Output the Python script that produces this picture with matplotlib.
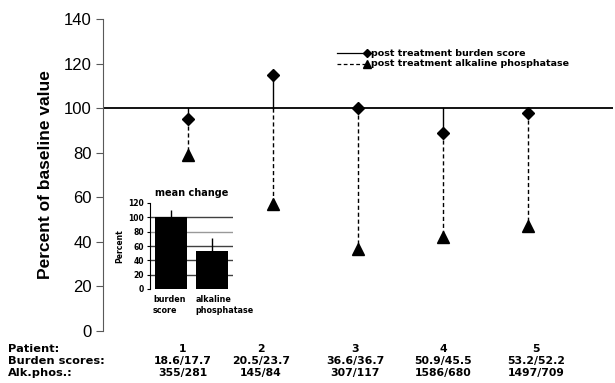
import matplotlib

matplotlib.use("Agg")
import matplotlib.pyplot as plt
import numpy as np

plt.rcParams["font.family"] = ["Liberation Sans", "DejaVu Sans"]
SMALL = "DejaVu Sans"   # the wide bold face used for legend, table and inset

# data
patients = [1, 2, 3, 4, 5]
burden_pct = [95, 115, 100, 89, 98]      # post treatment burden score (% of baseline)
alk_pct = [79, 57, 37, 42, 47]           # post treatment alkaline phosphatase (% of baseline)
burden_txt = ["18.6/17.7", "20.5/23.7", "36.6/36.7", "50.9/45.5", "53.2/52.2"]
alk_txt = ["355/281", "145/84", "307/117", "1586/680", "1497/709"]
row_labels = ["Patient:", "Burden scores:", "Alk.phos.:"]

mean_cats = ["burden\nscore", "alkaline\nphosphatase"]
mean_vals = [100, 53]
mean_err = [10, 18]

W, H = 615, 383
fig = plt.figure(figsize=(W / 100, H / 100), dpi=100)


def fx(px):
    return px / W


def fy(py):
    return 1 - py / H


ax = fig.add_axes([fx(103), fy(331), fx(613) - fx(103), fy(19) - fy(331)])
ax.set_xlim(0, 6)
ax.set_ylim(0, 140)
ax.set_yticks(np.arange(0, 141, 20))
ax.set_xticks([])
for s in ("top", "right", "bottom"):
    ax.spines[s].set_visible(False)
ax.spines["left"].set_color("0.35")
ax.tick_params(axis="y", direction="out", length=5, width=0.8, color="0.35",
               labelsize=12, pad=3)
ax.set_ylabel("Percent of baseline value", fontsize=12.5, fontweight="bold",
              labelpad=8)

ax.axhline(100, color="black", lw=1.3, zorder=2)
for x, b, a in zip(patients, burden_pct, alk_pct):
    ax.plot([x, x], [min(100, b), a], color="black", lw=1, ls=(0, (3, 2)), zorder=2)
    ax.plot([x, x], [100, b], color="black", lw=1, zorder=3)
ax.plot(patients, burden_pct, ls="none", marker="D", ms=6.5, color="black", zorder=4)
ax.plot(patients, alk_pct, ls="none", marker="^", ms=9, color="black", zorder=4)

# legend, drawn by hand: line ending in the marker
leg = [("post treatment burden score", "-", "D", 4.5, 53),
       ("post treatment alkaline phosphatase", (0, (3, 2)), "^", 5.5, 64)]
for label, ls, mk, ms, py in leg:
    y = fy(py)
    fig.add_artist(plt.Line2D([fx(337), fx(366)], [y, y], color="black", lw=0.9,
                              ls=ls, transform=fig.transFigure))
    fig.add_artist(plt.Line2D([fx(367)], [y], marker=mk, ms=ms, color="black",
                              transform=fig.transFigure))
    fig.text(fx(371), y, label, fontsize=6.8, fontweight="bold", va="center",
             family=SMALL)

# table under the chart
col_x = [183, 261, 355, 443, 536]
row_y = [349, 361, 373]
for lab, py in zip(row_labels, row_y):
    fig.text(fx(8), fy(py), lab, fontsize=8.2, fontweight="bold", va="center",
             family=SMALL)
for cx, p, b, a in zip(col_x, patients, burden_txt, alk_txt):
    for txt, py in zip((str(p), b, a), row_y):
        fig.text(fx(cx), fy(py), txt, fontsize=7.8, fontweight="bold",
                 ha="center", va="center", family=SMALL)

# inset: mean change
ins = fig.add_axes([fx(150), fy(289), fx(233) - fx(150), fy(203) - fy(289)])
ins.set_xlim(0, 2)
ins.set_ylim(0, 120)
for g in (20, 40, 60, 80, 100):
    ins.axhline(g, color="0.6" if g == 80 else "0.25", lw=1, zorder=1)
ins.bar([0.5, 1.5], mean_vals, width=0.77, color="black", zorder=2)
ins.errorbar([0.5, 1.5], mean_vals, yerr=[[0, 0], mean_err], fmt="none",
             ecolor="black", elinewidth=1, capsize=0, zorder=3)
ins.set_yticks(np.arange(0, 121, 20))
ins.set_xticks([0.07, 1.1])
ins.set_xticklabels(mean_cats, fontsize=5.8, fontweight="bold", linespacing=1.4,
                    family=SMALL, ha="left")
ins.tick_params(axis="x", length=0, pad=4)
ins.tick_params(axis="y", length=2.5, width=0.8, labelsize=5.5, pad=2)
for t in ins.get_yticklabels():
    t.set_fontweight("bold")
    t.set_family(SMALL)
for s in ("top", "right", "bottom"):
    ins.spines[s].set_visible(False)
ins.spines["left"].set_linewidth(0.8)
ins.set_title("mean change", fontsize=7, fontweight="bold", pad=5, family=SMALL)
ins.set_ylabel("Percent", fontsize=5.5, fontweight="bold", labelpad=3,
               family=SMALL)

fig.savefig("out.png", dpi=100)
